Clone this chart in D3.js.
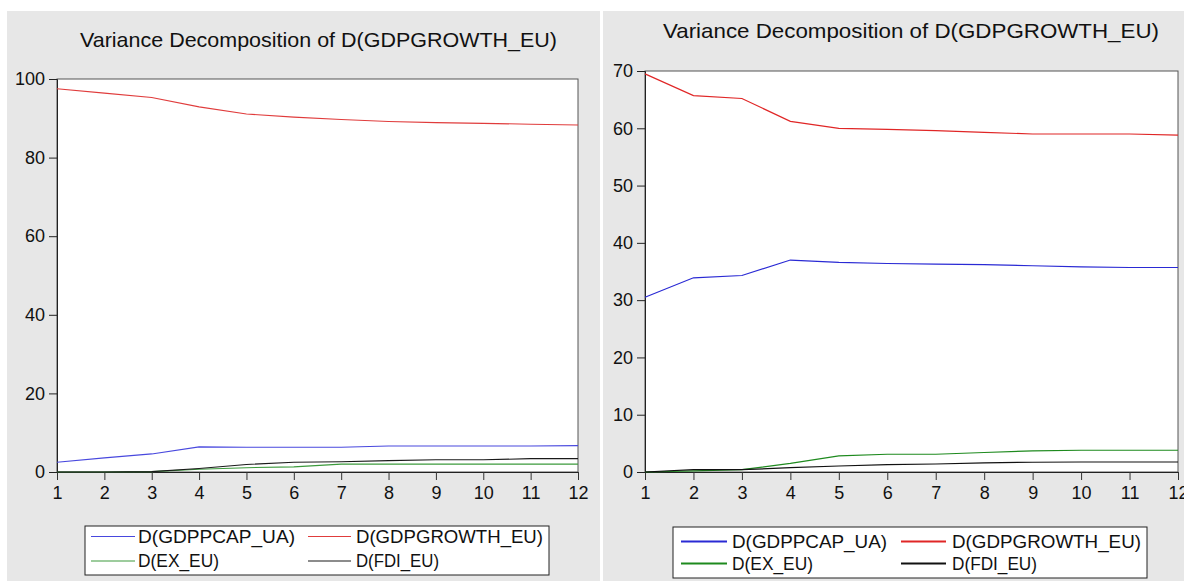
<!DOCTYPE html>
<html>
<head>
<meta charset="utf-8">
<script src="https://cdn.jsdelivr.net/npm/d3@7"></script>
<style>
  html, body { margin: 0; padding: 0; background: #fff; }
  svg { display: block; font-family: "Liberation Sans", Arial, sans-serif; }
</style>
</head>
<body>
<div id="container"></div>
<script>
// periods on the x axis
const periods = [1, 2, 3, 4, 5, 6, 7, 8, 9, 10, 11, 12];

// left panel values (percent)
const leftPcap   = [2.5, 3.6, 4.6, 6.4, 6.3, 6.3, 6.3, 6.6, 6.6, 6.6, 6.6, 6.7];
const leftGrowth = [97.5, 96.4, 95.3, 92.9, 91.1, 90.3, 89.7, 89.2, 88.9, 88.7, 88.5, 88.3];
const leftEx     = [0, 0, 0.1, 0.7, 1.1, 1.3, 2.0, 2.0, 2.0, 2.0, 2.0, 2.0];
const leftFdi    = [0, 0, 0.1, 0.9, 1.9, 2.5, 2.6, 2.9, 3.1, 3.1, 3.4, 3.4];

// right panel values (percent)
const rightPcap   = [30.5, 33.9, 34.3, 37.0, 36.6, 36.4, 36.3, 36.2, 36.0, 35.8, 35.7, 35.7];
const rightGrowth = [69.5, 65.7, 65.2, 61.2, 60.0, 59.8, 59.6, 59.3, 59.0, 59.0, 59.0, 58.8];
const rightEx     = [0, 0.2, 0.4, 1.5, 2.8, 3.1, 3.1, 3.4, 3.7, 3.8, 3.8, 3.8];
const rightFdi    = [0, 0.4, 0.4, 0.75, 1.05, 1.3, 1.4, 1.6, 1.7, 1.75, 1.75, 1.75];

const leftTicks = [0, 20, 40, 60, 80, 100];
const rightTicks = [0, 10, 20, 30, 40, 50, 60, 70];

const seriesNames = ["D(GDPPCAP_UA)", "D(GDPGROWTH_EU)", "D(EX_EU)", "D(FDI_EU)"];
const chartTitle = "Variance Decomposition of D(GDPGROWTH_EU)";

const width = 1184, height = 581;

const svg = d3.select("#container")
  .append("svg")
  .attr("width", width)
  .attr("height", height);

// panel layouts
const panels = [
  {
    bg: [7, 11, 593, 570],
    plot: {left: 57, right: 578, top: 79, bottom: 472},
    yMax: 100, ticks: leftTicks,
    series: [leftPcap, leftGrowth, leftEx, leftFdi],
    colors: ["#4848de", "#e03c3c", "#3c9a3c", "#1a1a1a"],
    lineWidth: 1.1,
    title: {x: 80, y: 47, w: 477, size: 21},
    legend: {
      box: [85, 526, 464, 49], lw: 1.2,
      rows: [536.5, 561],
      cols: [{x1: 91, x2: 135, tx: 138, tw: [157, 81]}, {x1: 308, x2: 351, tx: 356, tw: [187, 83]}],
      size: 17.5
    }
  },
  {
    bg: [603, 11, 581, 570],
    plot: {left: 645, right: 1178, top: 71, bottom: 472},
    yMax: 70, ticks: rightTicks,
    series: [rightPcap, rightGrowth, rightEx, rightFdi],
    colors: ["#2a2ad4", "#e02626", "#1e8a1e", "#111111"],
    lineWidth: 1.2,
    title: {x: 663, y: 38, w: 496, size: 21},
    legend: {
      box: [673, 527, 474, 51], lw: 2,
      rows: [541.5, 563.5],
      cols: [{x1: 681, x2: 727, tx: 732, tw: [155, 81]}, {x1: 901, x2: 946, tx: 952, tw: [189, 85]}],
      size: 18
    }
  }
];

panels.forEach(p => {
  const g = svg.append("g");

  g.append("rect")
    .attr("x", p.bg[0]).attr("y", p.bg[1])
    .attr("width", p.bg[2]).attr("height", p.bg[3])
    .attr("fill", "#e7e7e7");

  // title
  g.append("text")
    .attr("x", p.title.x).attr("y", p.title.y)
    .attr("font-size", p.title.size)
    .attr("fill", "#111")
    .attr("textLength", p.title.w)
    .attr("lengthAdjust", "spacingAndGlyphs")
    .text(chartTitle);

  const x = d3.scaleLinear().domain([1, 12]).range([p.plot.left, p.plot.right]);
  const y = d3.scaleLinear().domain([0, p.yMax]).range([p.plot.bottom, p.plot.top]);

  g.append("rect")
    .attr("x", p.plot.left).attr("y", p.plot.top)
    .attr("width", p.plot.right - p.plot.left)
    .attr("height", p.plot.bottom - p.plot.top)
    .attr("fill", "#fff")
    .attr("stroke", "#555")
    .attr("stroke-width", 1);

  // y axis
  const yAxis = g.append("g")
    .attr("transform", `translate(${p.plot.left},0)`)
    .call(d3.axisLeft(y).tickValues(p.ticks).tickSize(8).tickPadding(4));
  yAxis.select(".domain").attr("stroke", "#222");
  yAxis.selectAll(".tick line").attr("stroke", "#222");
  yAxis.selectAll("text")
    .attr("font-size", 18)
    .attr("fill", "#111")
    .style("font-family", "'Liberation Sans', Arial, sans-serif");

  // x axis
  const xAxis = g.append("g")
    .attr("transform", `translate(0,${p.plot.bottom})`)
    .call(d3.axisBottom(x).tickValues(periods).tickFormat(d3.format("d")).tickSize(8).tickPadding(6));
  xAxis.select(".domain").attr("stroke", "#222");
  xAxis.selectAll(".tick line").attr("stroke", "#333");
  xAxis.selectAll("text")
    .attr("font-size", 18)
    .attr("fill", "#111")
    .style("font-family", "'Liberation Sans', Arial, sans-serif");

  // lines
  const line = d3.line()
    .x((d, i) => x(periods[i]))
    .y(d => y(d));

  p.series.forEach((vals, k) => {
    g.append("path")
      .datum(vals)
      .attr("d", line)
      .attr("fill", "none")
      .attr("stroke", p.colors[k])
      .attr("stroke-width", p.lineWidth);
  });

  // legend
  const L = p.legend;
  g.append("rect")
    .attr("x", L.box[0]).attr("y", L.box[1])
    .attr("width", L.box[2]).attr("height", L.box[3])
    .attr("fill", "#fff")
    .attr("stroke", "#222")
    .attr("stroke-width", 1);

  seriesNames.forEach((name, k) => {
    const row = Math.floor(k / 2), col = k % 2;
    const c = L.cols[col];
    const ly = L.rows[row];
    g.append("line")
      .attr("x1", c.x1).attr("x2", c.x2)
      .attr("y1", ly).attr("y2", ly)
      .attr("stroke", p.colors[k])
      .attr("stroke-width", L.lw);
    g.append("text")
      .attr("x", c.tx).attr("y", ly)
      .attr("dy", "0.36em")
      .attr("font-size", L.size)
      .attr("fill", "#111")
      .attr("textLength", c.tw[row])
      .attr("lengthAdjust", "spacingAndGlyphs")
      .text(name);
  });
});
</script>
</body>
</html>
